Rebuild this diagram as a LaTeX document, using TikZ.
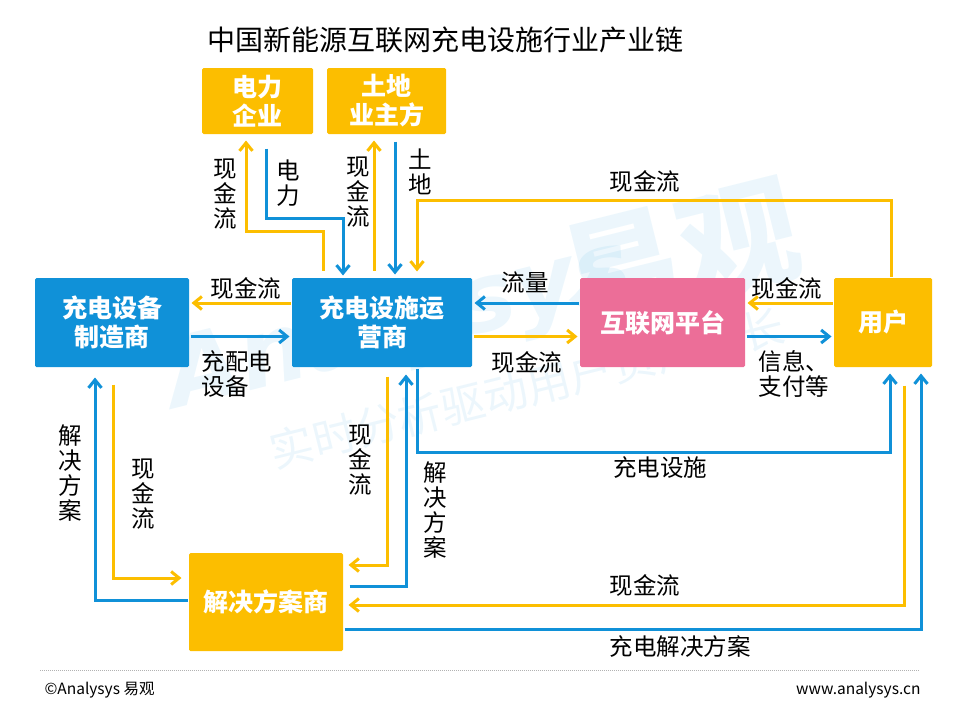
\documentclass[tikz,border=0pt]{standalone}
\usepackage{fontspec}
\setmainfont{Noto Sans CJK SC}
\newfontfamily\wmfont{DejaVu Sans}
\usepackage{tikz}
\usetikzlibrary{positioning, arrows.meta}

\definecolor{cblue}{RGB}{16,145,216}
\definecolor{cgold}{RGB}{252,190,0}
\definecolor{cpink}{RGB}{236,110,152}

\begin{document}
\begin{tikzpicture}[x=1pt,y=-1pt,>={Straight Barb[length=8pt,width=13pt]},
                    line width=3pt,shorten >=1pt,
                    box/.style={fill=#1,text=white,inner sep=0pt,align=center,
                                rounded corners=1.5pt,
                                font=\fontsize{25}{29}\selectfont\bfseries},
                    lbl/.style={inner sep=0pt,align=center,text=black,
                                font=\fontsize{23.5}{25}\selectfont},
                    wm/.style={text=cblue,opacity=0.08,rotate=14},
                    cash/.style={draw=cgold},
                    info/.style={draw=cblue}]
   \useasboundingbox (0,0) rectangle (960,720);
   % watermark
   \node[wm,font=\fontsize{120}{120}\selectfont\bfseries] (wm1) at (680,255) {易观};
   \node[wm,anchor=west,font=\wmfont\fontsize{95}{95}\selectfont\bfseries\itshape] (wm2) at (165,385) {Analysys};
   \node[wm,font=\fontsize{44}{44}\selectfont] (wm3) at (527,388) {实时分析驱动用户资产成长};
   \node[font=\fontsize{28}{32}\selectfont] (title) at (445,40) {中国新能源互联网充电设施行业产业链};
   % boxes
   \node[box=cblue,minimum width=180pt,minimum height=89pt] (yy) at (382,322.5) {充电设施运\\营商};
   \node[box=cblue,minimum width=154pt,minimum height=89pt] (zz) [left=100pt of yy] {充电设备\\制造商};
   \node[box=cpink,minimum width=165pt,minimum height=89pt] (pt) [right=105pt of yy] {互联网平台};
   \node[box=cgold,minimum width=98pt,minimum height=89pt] (yh) [right=86pt of pt] {用户};
   \node[box=cgold,minimum width=111pt,minimum height=66pt] (dl) at (257.5,101) {电力\\企业};
   \node[box=cgold,minimum width=119pt,minimum height=66pt] (td) at (386.5,101) {土地\\业主方};
   \node[box=cgold,minimum width=154pt,minimum height=98pt] (fa) at (266,602) {解决方案商};
   % top
   \draw[->,cash,shorten <=6pt,shorten >=5pt] ([xshift=-59pt]yy.north) -- ++(0,-45) -| ([xshift=-11.5pt]dl.south);
   \draw[->,info,shorten <=13pt] ([xshift=8.5pt]dl.south) -- ++(0,83) -| ([xshift=-39pt]yy.north);
   \draw[->,cash,shorten <=6pt,shorten >=5pt] ([xshift=-8pt]yy.north) -- ([xshift=-12.5pt]td.south);
   \draw[->,info,shorten <=6pt,shorten >=2pt] ([xshift=8.5pt]td.south) -- ([xshift=13pt]yy.north);
   \draw[->,cash,shorten >=5pt] ([xshift=8pt]yh.north) -- ++(0,-76) -| ([xshift=35pt]yy.north);
   % middle row
   \path[->]
   ([yshift=19.5pt]yy.west) edge [cash] ([yshift=19.5pt]zz.east)
   ([yshift=-14pt]zz.east)  edge [info] ([yshift=-14pt]yy.west)
   ([yshift=19.5pt]pt.west) edge [info] ([yshift=19.5pt]yy.east)
   ([yshift=-14pt]yy.east)  edge [cash] ([yshift=-14pt]pt.west)
   ([yshift=19.5pt]yh.west) edge [cash] ([yshift=19.5pt]pt.east)
   ([yshift=-14pt]pt.east)  edge [info] ([yshift=-14pt]yh.west);
   % bottom
   \draw[->,info,shorten >=5pt] ([xshift=35pt]yy.south) -- ++(0,84) -| ([xshift=7pt]yh.south);
   \draw[->,info,shorten <=5pt,shorten >=6pt] ([yshift=16pt]fa.east) -| ([xshift=24pt]yy.south);
   \draw[->,cash,shorten <=8pt,shorten >=4pt] ([xshift=5pt]yy.south) |- ([yshift=37pt]fa.east);
   \draw[->,info,shorten >=9pt] ([yshift=1.5pt]fa.west) -| ([xshift=-17pt]zz.south);
   \draw[->,cash,shorten <=16pt,shorten >=6pt] ([xshift=1.7pt]zz.south) |- ([yshift=24pt]fa.west);
   \draw[->,cash,shorten <=17pt,shorten >=4pt] ([xshift=21pt]yh.south) |- ([yshift=-3pt]fa.east);
   \draw[->,info,shorten >=5pt] ([yshift=-27pt]fa.east) -| ([xshift=38pt]yh.south);
   % labels
   \node[lbl] (l1) at (225,194) {现\\金\\流};
   \node[lbl] (l2) at (288,183) {电\\力};
   \node[lbl] (l3) at (358,192) {现\\金\\流};
   \node[lbl] (l4) at (420,172) {土\\地};
   \node[lbl] (l5) at (645,181) {现金流};
   \node[lbl] (l6) at (246,288) {现金流};
   \node[lbl,align=left,anchor=west] (l7) at (200,374) {充配电\\设备};
   \node[lbl] (l8) at (525,283) {流量};
   \node[lbl] (l9) at (527,362) {现金流};
   \node[lbl] (l10) at (787,288) {现金流};
   \node[lbl,align=left,anchor=west] (l11) at (757,374) {信息、\\支付等};
   \node[lbl] (l12) at (660,468) {充电设施};
   \node[lbl] (l13) at (360,460) {现\\金\\流};
   \node[lbl] (l14) at (435,510) {解\\决\\方\\案};
   \node[lbl] (l15) at (70,473) {解\\决\\方\\案};
   \node[lbl] (l16) at (143,494) {现\\金\\流};
   \node[lbl] (l17) at (645,585) {现金流};
   \node[lbl] (l18) at (680,647) {充电解决方案};
   % footer
   \draw[gray!60,line width=0.8pt,dash pattern=on 1pt off 1pt] (40,670) -- (920,670);
   \node[anchor=west,font=\fontsize{15.5}{18}\selectfont,inner sep=0pt] (cpy) at (43,690) {©Analysys 易观};
   \node[anchor=east,font=\fontsize{15.5}{18}\selectfont,inner sep=0pt] (web) at (922,690) {www.analysys.cn};
\end{tikzpicture}
\end{document}
